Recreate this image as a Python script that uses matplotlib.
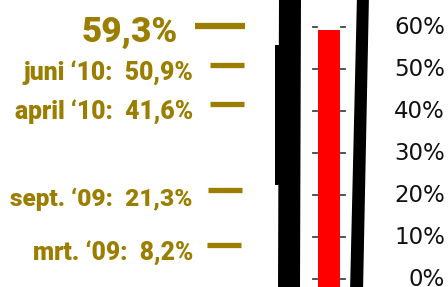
import matplotlib
matplotlib.use("Agg")
import matplotlib.pyplot as plt
from matplotlib.patches import Polygon

# ---- data ----
current_label = "59,3%"
current_value = 59.3
history_labels = ["juni \u201810:  50,9%", "april \u201810:  41,6%",
                  "sept. \u201809:  21,3%", "mrt. \u201809:  8,2%"]
history_values = [50.9, 41.6, 21.3, 8.2]
tick_values = [0, 10, 20, 30, 40, 50, 60]
tick_labels = ["0%", "10%", "20%", "30%", "40%", "50%", "60%"]

GOLD = "#9B7D00"
BOLD_FAMILY = ["Roboto", "DejaVu Sans"]

fig = plt.figure(figsize=(4.48, 2.87), dpi=100)
ax = fig.add_axes([0, 0, 1, 1])
ax.set_xlim(0, 448)
ax.set_ylim((279 - 287) / 4.2, 279 / 4.2)
ax.axis("off")

def py(p):
    return (279 - p) / 4.2

# tube borders (decorative)
ax.add_patch(Polygon([(278, py(292)), (300, py(292)), (301, py(-5)), (279, py(-5))],
                     closed=True, color="black", lw=0))
ax.add_patch(Polygon([(275, py(45)), (280, py(45)), (280, py(185)), (275, py(185))],
                     closed=True, color="black", lw=0))
ax.add_patch(Polygon([(350, py(292)), (363, py(292)), (369, py(-5)), (357, py(-5))],
                     closed=True, color="black", lw=0))

# red column
ymin = ax.get_ylim()[0]
ax.bar([329], [current_value - ymin], bottom=ymin,
       width=22, color="#FF0000", linewidth=0, zorder=3)

# small scale ticks in the tube
for v in tick_values:
    ax.plot([313, 317], [v, v], color="#444444", lw=1.3, zorder=2)
    ax.plot([341, 345], [v, v], color="#444444", lw=1.3, zorder=2)

# right tick labels
for v, t in zip(tick_values, tick_labels):
    ax.text(445, v, t, ha="right", va="center", fontsize=16.5,
            color="#111111", family=["DejaVu Sans"])

renderer = fig.canvas.get_renderer()

def fitted_label(text, right_x, y, target_w, base=20):
    t = ax.annotate(text, (right_x, y), xytext=(0, -11.5),
                    textcoords="offset points", ha="right", va="baseline",
                    fontsize=base, fontweight="black", color=GOLD,
                    family=BOLD_FAMILY)
    w = t.get_window_extent(renderer).width
    t.set_fontsize(base * target_w / w)
    return t

# main value label
ax.plot([195, 245], [current_value + 0.9, current_value + 0.9],
        color=GOLD, lw=4.5, solid_capstyle="butt")
fitted_label(current_label, 178, current_value + 0.9, 96)

# history labels
line_x0 = [210, 210, 208, 207]
label_w = [170, 179, 182, 160]
for lab, v, x0, w in zip(history_labels, history_values, line_x0, label_w):
    ax.plot([x0, x0 + 34], [v, v], color=GOLD, lw=3.8, solid_capstyle="butt")
    fitted_label(lab, 193, v, w)

fig.savefig("out.png", dpi=100)
